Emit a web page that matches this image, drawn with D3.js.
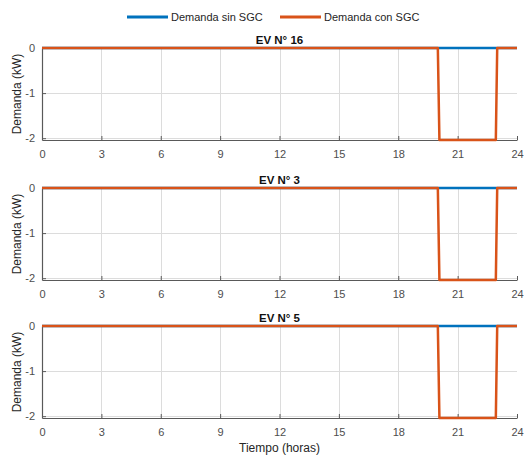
<!DOCTYPE html>
<html>
<head>
<meta charset="utf-8">
<script src="https://cdn.jsdelivr.net/npm/d3@7"></script>
<style>
  body { margin: 0; background: #fff; }
  svg { display: block; font-family: "Liberation Sans", Arial, sans-serif; }
</style>
</head>
<body>
<svg id="chart"></svg>
<script>
const width = 525;
const height = 456;

// Data
const panelTitles = ['EV N° 16', 'EV N° 3', 'EV N° 5'];
const seriesNames = ['Demanda sin SGC', 'Demanda con SGC'];
const xTicks = [0, 3, 6, 9, 12, 15, 18, 21, 24];
const yTicks = [0, -1, -2];
// breakpoints (hours, kW)
const sinSgcT = [0, 24];
const sinSgcV = [0, 0];
const conSgcT = [0, 20, 20.08, 22.93, 23, 24];
const conSgcV = [0, 0, -2.04, -2.04, 0, 0];

const colors = ['#0072BD', '#D95319'];
const axisColor = '#595959';
const tickTextColor = '#4d4d4d';

const svg = d3.select('#chart').attr('width', width).attr('height', height);

const left = 42;
const right = 517;
const panelTops = [48, 188, 326];
const panelH = 92;

const xScale = d3.scaleLinear().domain([0, 24]).range([left, right]);

const toPoints = (t, v) => t.map((d, i) => ({ t: d, v: v[i] }));
const series = [toPoints(sinSgcT, sinSgcV), toPoints(conSgcT, conSgcV)];

panelTitles.forEach((title, p) => {
  const top = panelTops[p];
  const yScale = d3.scaleLinear().domain([-2.04, 0]).range([top + panelH, top]);
  const g = svg.append('g');

  // Grid
  g.append('g')
    .attr('stroke', '#dcdcdc')
    .attr('stroke-width', 1)
    .call((gg) =>
      gg.selectAll('line.v')
        .data(xTicks.slice(1, -1))
        .join('line')
        .attr('x1', (d) => Math.round(xScale(d)) + 0.5)
        .attr('x2', (d) => Math.round(xScale(d)) + 0.5)
        .attr('y1', top)
        .attr('y2', top + panelH)
    )
    .call((gg) =>
      gg.selectAll('line.h')
        .data(yTicks)
        .join('line')
        .attr('x1', left)
        .attr('x2', right)
        .attr('y1', (d) => Math.round(yScale(d)) + 0.5)
        .attr('y2', (d) => Math.round(yScale(d)) + 0.5)
    );

  // X axis
  const xAxis = g.append('g')
    .attr('transform', `translate(0, ${top + panelH})`)
    .call(d3.axisBottom(xScale).tickValues(xTicks).tickFormat((d) => `${d}`)
      .tickSizeInner(-4).tickSizeOuter(0).tickPadding(10));
  xAxis.select('.domain').attr('stroke', axisColor).attr('stroke-width', 1.2);
  xAxis.selectAll('.tick line').attr('stroke', axisColor);
  xAxis.selectAll('text').attr('fill', tickTextColor).attr('font-size', '11px');

  // Y axis
  const yAxis = g.append('g')
    .attr('transform', `translate(${left}, 0)`)
    .call(d3.axisLeft(yScale).tickValues(yTicks).tickFormat((d) => `${d}`)
      .tickSizeInner(-4).tickSizeOuter(0).tickPadding(7));
  yAxis.select('.domain').attr('stroke', axisColor).attr('stroke-width', 1.2);
  yAxis.selectAll('.tick line').attr('stroke', axisColor);
  yAxis.selectAll('text').attr('fill', tickTextColor).attr('font-size', '11px');

  // Lines
  const line = d3.line().x((d) => xScale(d.t)).y((d) => yScale(d.v));
  series.forEach((s, i) => {
    g.append('path')
      .datum(s)
      .attr('fill', 'none')
      .attr('stroke', colors[i])
      .attr('stroke-width', 2.5)
      .attr('stroke-linejoin', 'round')
      .attr('d', line);
  });

  // Title
  g.append('text')
    .attr('x', (left + right) / 2)
    .attr('y', top - 4)
    .attr('text-anchor', 'middle')
    .attr('font-size', '11.5px')
    .attr('font-weight', 'bold')
    .attr('fill', '#111')
    .text(title);

  // Y label
  g.append('text')
    .attr('transform', `translate(21, ${top + panelH / 2}) rotate(-90)`)
    .attr('text-anchor', 'middle')
    .attr('font-size', '12px')
    .attr('fill', '#262626')
    .text('Demanda (kW)');
});

// X label
svg.append('text')
  .attr('x', (left + right) / 2)
  .attr('y', 452)
  .attr('text-anchor', 'middle')
  .attr('font-size', '12px')
  .attr('fill', '#262626')
  .text('Tiempo (horas)');

// Legend
const legendItems = [
  { x: 127, name: seriesNames[0], color: colors[0] },
  { x: 280, name: seriesNames[1], color: colors[1] },
];
const legend = svg.append('g');
legendItems.forEach((d) => {
  legend.append('line')
    .attr('x1', d.x)
    .attr('x2', d.x + 41)
    .attr('y1', 17)
    .attr('y2', 17)
    .attr('stroke', d.color)
    .attr('stroke-width', 3);
  legend.append('text')
    .attr('x', d.x + 44)
    .attr('y', 21)
    .attr('font-size', '11px')
    .attr('fill', '#262626')
    .text(d.name);
});
</script>
</body>
</html>
